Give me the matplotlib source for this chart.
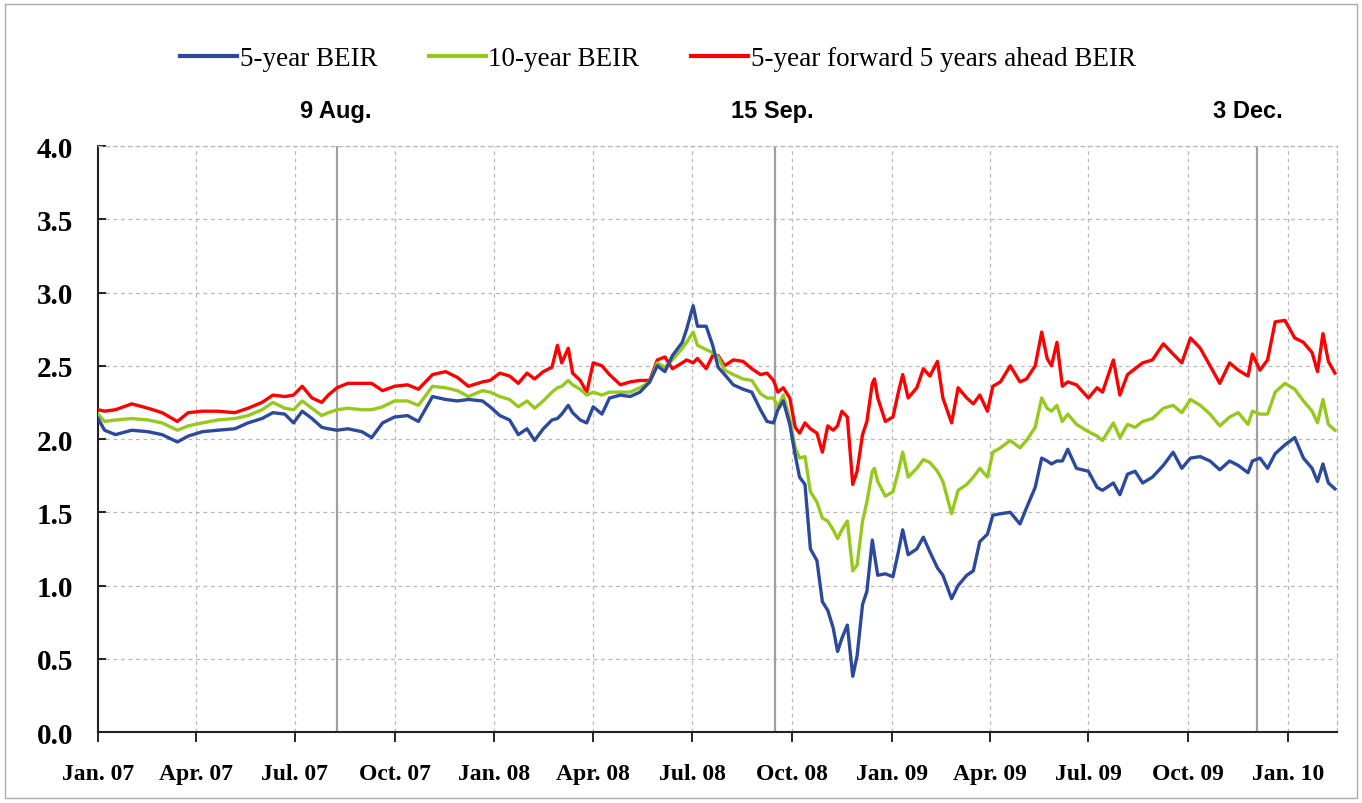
import numpy as np
import pandas as pd
import matplotlib
matplotlib.use('Agg')
import matplotlib.pyplot as plt
from matplotlib.lines import Line2D
from matplotlib.patches import Rectangle

START = pd.Timestamp('2007-01-01')

# days since 1 Jan 2007
days = [0, 6, 16, 31, 46, 59, 73, 83, 96, 110, 126, 138, 151, 161, 172, 180, 188, 197, 206, 212,
        220, 230, 243, 252, 262, 273, 285, 295, 308, 320, 331, 341, 354,
        361, 370, 379, 387, 395, 402, 410, 418, 423, 427, 433, 437, 444, 450, 456, 464, 471, 481,
        490, 499, 508, 515, 522, 529, 538, 542, 548, 552, 560, 566, 571, 577, 585, 594, 602, 610,
        616, 622, 626, 631, 637,
        642, 646, 651, 656, 662, 667, 672, 677, 681, 685, 690, 695, 699, 704, 708, 713, 715, 718,
        725, 732, 737, 741, 746, 754, 760, 766, 773, 778, 786, 792, 800, 806, 812, 819, 824,
        831, 840, 849, 855, 863, 869, 874, 878, 883, 888, 893, 901, 912, 920, 925, 935, 941, 948,
        955, 962, 971, 981, 990, 998, 1006, 1015, 1024, 1033, 1042, 1050, 1059, 1063, 1070, 1077,
        1084, 1093, 1102, 1110, 1118, 1123, 1128, 1133, 1139]

beir5 = [2.14, 2.06, 2.03, 2.06, 2.05, 2.03, 1.98, 2.02, 2.05, 2.06, 2.07, 2.11, 2.14, 2.18, 2.17, 2.11,
         2.19, 2.14, 2.08, 2.07, 2.06, 2.07, 2.05, 2.01, 2.11, 2.15, 2.16, 2.12, 2.29, 2.27, 2.26, 2.27, 2.26,
         2.22, 2.16, 2.13, 2.03, 2.07, 1.99, 2.07, 2.13, 2.14, 2.17, 2.23, 2.18, 2.13, 2.11, 2.22, 2.17,
         2.28, 2.30, 2.29, 2.32, 2.39, 2.50, 2.46, 2.57, 2.66, 2.75, 2.91, 2.77, 2.77, 2.64, 2.49, 2.44,
         2.37, 2.34, 2.32, 2.20, 2.12, 2.11, 2.20, 2.26, 2.10,
         1.89, 1.74, 1.69, 1.25, 1.17, 0.89, 0.83, 0.71, 0.55, 0.64, 0.73, 0.38, 0.52, 0.87, 0.96, 1.31,
         1.21, 1.07, 1.08, 1.06, 1.23, 1.38, 1.21, 1.25, 1.33, 1.23, 1.12, 1.07, 0.91, 1.00, 1.07, 1.10,
         1.30, 1.35, 1.48,
         1.49, 1.50, 1.42, 1.53, 1.67, 1.87, 1.85, 1.83, 1.85, 1.85, 1.93, 1.80, 1.78, 1.67, 1.65, 1.70,
         1.62, 1.76, 1.78, 1.70, 1.74, 1.82, 1.91, 1.80, 1.87, 1.88, 1.85, 1.79, 1.85, 1.82, 1.77, 1.85,
         1.87, 1.80, 1.90, 1.96, 2.01, 1.87, 1.80, 1.71, 1.83, 1.70, 1.66]

beir10 = [2.17, 2.12, 2.13, 2.14, 2.13, 2.11, 2.06, 2.09, 2.11, 2.13, 2.14, 2.16, 2.20, 2.25, 2.21, 2.20,
          2.26, 2.21, 2.16, 2.18, 2.20, 2.21, 2.20, 2.20, 2.22, 2.26, 2.26, 2.23, 2.36, 2.35, 2.33, 2.29, 2.33,
          2.32, 2.29, 2.27, 2.22, 2.26, 2.21, 2.26, 2.32, 2.35, 2.36, 2.40, 2.37, 2.34, 2.30, 2.32, 2.30,
          2.32, 2.32, 2.32, 2.35, 2.39, 2.52, 2.49, 2.54, 2.62, 2.66, 2.73, 2.64, 2.61, 2.59, 2.56, 2.47,
          2.44, 2.41, 2.40, 2.31, 2.28, 2.28, 2.22, 2.30, 2.14,
          1.94, 1.87, 1.88, 1.64, 1.57, 1.46, 1.44, 1.38, 1.32, 1.38, 1.44, 1.10, 1.14, 1.44, 1.57, 1.78,
          1.80, 1.71, 1.61, 1.64, 1.78, 1.91, 1.74, 1.80, 1.86, 1.84, 1.78, 1.71, 1.49, 1.65, 1.69, 1.74,
          1.80, 1.74, 1.91,
          1.94, 1.99, 1.94, 1.99, 2.08, 2.28, 2.21, 2.19, 2.23, 2.12, 2.17, 2.10, 2.05, 2.02, 1.99, 2.11,
          2.01, 2.10, 2.08, 2.12, 2.14, 2.21, 2.23, 2.18, 2.27, 2.23, 2.17, 2.09, 2.15, 2.18, 2.10, 2.19,
          2.17, 2.17, 2.32, 2.38, 2.34, 2.26, 2.19, 2.11, 2.27, 2.10, 2.06]

fwd5y5 = [2.20, 2.19, 2.20, 2.24, 2.21, 2.18, 2.12, 2.18, 2.19, 2.19, 2.18, 2.21, 2.25, 2.30, 2.29, 2.30,
          2.36, 2.28, 2.25, 2.30, 2.35, 2.38, 2.38, 2.38, 2.33, 2.36, 2.37, 2.34, 2.44, 2.46, 2.42, 2.36, 2.39,
          2.40, 2.45, 2.43, 2.38, 2.45, 2.41, 2.46, 2.49, 2.64, 2.52, 2.62, 2.45, 2.40, 2.32, 2.52, 2.50,
          2.44, 2.37, 2.39, 2.40, 2.40, 2.54, 2.56, 2.48, 2.52, 2.54, 2.52, 2.55, 2.48, 2.57, 2.57, 2.50,
          2.54, 2.53, 2.48, 2.44, 2.45, 2.40, 2.32, 2.35, 2.28,
          2.08, 2.04, 2.11, 2.07, 2.04, 1.91, 2.09, 2.06, 2.09, 2.19, 2.15, 1.69, 1.78, 2.03, 2.12, 2.38,
          2.41, 2.28, 2.12, 2.15, 2.32, 2.44, 2.28, 2.35, 2.48, 2.43, 2.53, 2.28, 2.11, 2.35, 2.28, 2.24,
          2.30, 2.19, 2.36,
          2.39, 2.50, 2.39, 2.41, 2.50, 2.73, 2.55, 2.50, 2.66, 2.36, 2.39, 2.37, 2.28, 2.35, 2.32, 2.54,
          2.30, 2.44, 2.48, 2.52, 2.54, 2.65, 2.58, 2.52, 2.69, 2.62, 2.50, 2.38, 2.52, 2.47, 2.43, 2.58,
          2.47, 2.54, 2.80, 2.81, 2.69, 2.66, 2.59, 2.46, 2.72, 2.53, 2.45]

event_dates = ['2007-08-09', '2008-09-15', '2009-12-03']
event_labels = ['9 Aug.', '15 Sep.', '3 Dec.']
tick_labels = ['Jan. 07', 'Apr. 07', 'Jul. 07', 'Oct. 07', 'Jan. 08', 'Apr. 08', 'Jul. 08',
               'Oct. 08', 'Jan. 09', 'Apr. 09', 'Jul. 09', 'Oct. 09', 'Jan. 10']
series_names = ['5-year BEIR', '10-year BEIR', '5-year forward 5 years ahead BEIR']
colors = ['#2b4a9c', '#96c81e', '#ff0000']

dates = START + pd.to_timedelta(days, unit='D')
tick_dates = pd.date_range('2007-01-01', periods=len(tick_labels), freq='QS')

fig = plt.figure(figsize=(13.62, 8.04), dpi=100)
ax = fig.add_axes([0.072, 0.0883, 0.9097, 0.7288])

grid_kw = dict(color='#b8b8b8', lw=0.9, ls=(0, (3, 3)), zorder=0)
for v in np.arange(0.5, 4.01, 0.5):
    ax.axhline(v, **grid_kw)
for d in tick_dates[1:]:
    ax.axvline(d, **grid_kw)
for d in event_dates:
    ax.axvline(pd.Timestamp(d), color='#a0a0a0', lw=1.6, zorder=1)

# red underneath, blue on top
for vals, c in zip([fwd5y5, beir10, beir5], colors[::-1]):
    ax.plot(dates, vals, color=c, lw=2.4, zorder=3)

ax.set_xlim(START, pd.Timestamp('2010-02-15'))
ax.set_ylim(0, 4)
ax.set_yticks(np.arange(0, 4.01, 0.5))
ax.set_yticklabels([f'{v:.1f}' for v in np.arange(0, 4.01, 0.5)],
                   family='Liberation Serif', fontweight='bold', fontsize=21)
ax.set_xticks(tick_dates)
ax.set_xticklabels(tick_labels, family='Liberation Serif', fontweight='bold', fontsize=17)
ax.tick_params(axis='y', direction='in', length=6, width=1.2, pad=18)
ax.tick_params(axis='x', direction='out', length=7, width=1.2, pad=15)

for s in ['top', 'right']:
    ax.spines[s].set_color('#b8b8b8')
    ax.spines[s].set_linestyle((0, (3, 3)))
    ax.spines[s].set_linewidth(0.9)
for s in ['left', 'bottom']:
    ax.spines[s].set_color('#222222')
    ax.spines[s].set_linewidth(1.5)

offsets = [-1, -2, -8]  # small nudges in days so labels sit like the original
for d, lab, off in zip(event_dates, event_labels, offsets):
    ax.text(pd.Timestamp(d) + pd.Timedelta(days=off), 1.06, lab, transform=ax.get_xaxis_transform(),
            ha='center', va='center', family='Liberation Sans', fontweight='bold', fontsize=17)

handles = [Line2D([], [], color=c, lw=3) for c in colors]
fig.legend(handles, series_names, loc='center', bbox_to_anchor=(0.483, 0.926), ncol=3, frameon=False,
           prop={'family': 'Liberation Serif', 'size': 19.5}, handlelength=2.1, handletextpad=0.1,
           columnspacing=1.9)

fig.patches.append(Rectangle((0.004, 0.006), 0.992, 0.988, transform=fig.transFigure, fill=False,
                             ec='#aaaaaa', lw=1))

fig.savefig('out.png', dpi=100)
